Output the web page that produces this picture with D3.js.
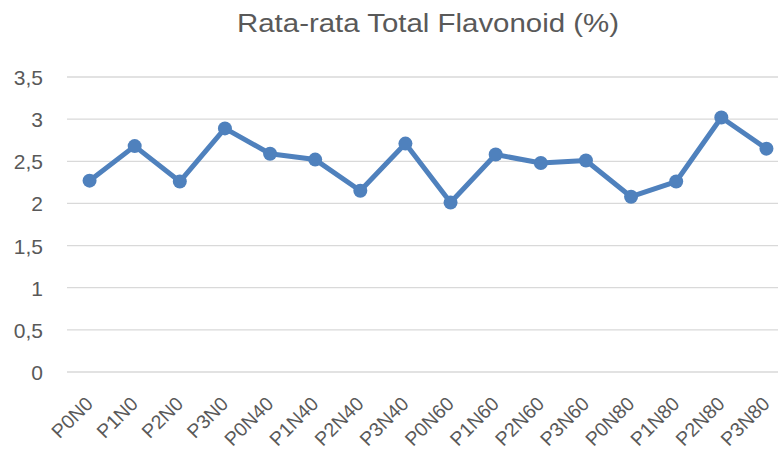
<!DOCTYPE html>
<html><head><meta charset="utf-8">
<script src="https://cdn.jsdelivr.net/npm/d3@7"></script>
<style>html,body{margin:0;padding:0;background:#fff;overflow:hidden}</style>
</head><body>
<svg id="c" width="778" height="449"></svg>
<script>
const categories = ["P0N0","P1N0","P2N0","P3N0","P0N40","P1N40","P2N40","P3N40","P0N60","P1N60","P2N60","P3N60","P0N80","P1N80","P2N80","P3N80"];
const values = [2.27,2.68,2.26,2.89,2.59,2.52,2.15,2.71,2.01,2.58,2.48,2.51,2.08,2.26,3.02,2.65];
const yTicks = [0,0.5,1,1.5,2,2.5,3,3.5];
const title = "Rata-rata Total Flavonoid (%)";

const svg = d3.select("#c");
const font = "'Liberation Sans', Arial, sans-serif";
const grey = "#595959";

const x = d3.scalePoint().domain(categories).range([67, 789]).padding(0.5);
const y = d3.scaleLinear().domain([0, 3.5]).range([372, 77]);

// gridlines
svg.append("g").selectAll("line").data(yTicks.slice(1)).join("line")
  .attr("x1", 67).attr("x2", 789)
  .attr("y1", d => y(d)).attr("y2", d => y(d))
  .attr("stroke", "#d9d9d9").attr("stroke-width", 1.3);

// y axis labels
const yAxis = svg.append("g").attr("transform", "translate(67,0)")
  .call(d3.axisLeft(y).tickValues(yTicks).tickSize(0).tickPadding(24)
    .tickFormat(d => String(d).replace(".", ",")));
yAxis.select(".domain").remove();
yAxis.selectAll("text").attr("font-family", font).attr("font-size", 21).attr("fill", grey)
  .attr("dy", "0.36em");

// x axis
const xAxis = svg.append("g").attr("transform", "translate(0,372)")
  .call(d3.axisBottom(x).tickSize(0).tickPadding(0));
xAxis.select(".domain").attr("stroke", "#d9d9d9").attr("stroke-width", 1.3)
  .attr("d", "M67,0H789");
xAxis.selectAll("text")
  .attr("font-family", font).attr("font-size", 19.5).attr("fill", grey)
  .attr("text-anchor", "end")
  .attr("y", 0).attr("dy", 0)
  .attr("transform", "translate(4,33) rotate(-45)");

// line
const line = d3.line().x((d, i) => x(categories[i])).y(d => y(d));
svg.append("path").datum(values).attr("d", line)
  .attr("fill", "none").attr("stroke", "#4F81BD").attr("stroke-width", 5)
  .attr("stroke-linejoin", "round");
svg.append("g").selectAll("circle").data(values).join("circle")
  .attr("cx", (d, i) => x(categories[i])).attr("cy", d => y(d))
  .attr("r", 7).attr("fill", "#4F81BD");

// title
svg.append("text").attr("x", 428).attr("y", 32).attr("text-anchor", "middle")
  .attr("font-family", font).attr("font-size", 25.5).attr("fill", grey)
  .attr("textLength", 382).attr("lengthAdjust", "spacingAndGlyphs")
  .text(title);
</script>
</body></html>
